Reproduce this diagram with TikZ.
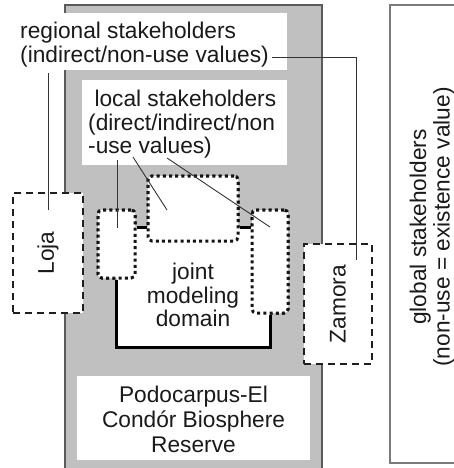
\documentclass[tikz,border=0pt]{standalone}
\usepackage{fontspec}
\setmainfont{Liberation Sans}
\definecolor{bggray}{HTML}{C0C0C0}
\definecolor{edgegray}{HTML}{5A5A5A}
\definecolor{txtcol}{HTML}{1A1A1A}
\begin{document}
\begin{tikzpicture}[x=1pt,y=-1pt,
  txt/.style={font=\fontsize{22.7}{23.5}\selectfont, text=txtcol, inner sep=0pt},
  wbox/.style={fill=white, draw=none, inner sep=0pt},
  dotbox/.style={draw=black!92, fill=white, line width=3pt, dash pattern=on 3pt off 3.2pt, rounded corners=4pt, inner sep=0pt},
  dashbox/.style={draw=black!88, fill=white, line width=1.8pt, dash pattern=on 7pt off 5pt, inner sep=0pt},
  conn/.style={draw=black!80, line width=0.9pt},
  domline/.style={draw=black, line width=3pt},
  beam/.style={draw=black, line width=3pt}
]
\useasboundingbox (0,0) rectangle (454,468);
% global stakeholders box
\node[draw=edgegray!80, line width=1.2pt, fill=white, minimum width=84pt, minimum height=458pt, inner sep=0pt] (G) at (432,234) {};
\node[txt, align=center, rotate=90] (Gt) at (432,227) {global stakeholders\\(non-use = existence value)};
% gray reserve area
\path[fill=bggray, draw=edgegray, line width=1.3pt] (65,5) rectangle (322,480);
% regional box
\node[wbox, minimum width=279pt, minimum height=57pt] (R) at (147.5,41.5) {};
\node[txt, align=left, anchor=north west] (Rt) at (20,22) {regional stakeholders\\(indirect/non-use values)};
% local box
\node[wbox, minimum width=205pt, minimum height=85pt] (Lo) at (184.5,122.5) {};
\node[txt, align=left, anchor=north west] (Lt) at (88,90) {\hspace*{6.3pt}local stakeholders\\(direct/indirect/non\\-use values)};
% joint modeling domain
\coordinate (jy) at (0,227);
\coordinate (dB) at (0,347);
\node[dotbox, minimum width=37pt, minimum height=68pt] (L) at (116.5,244) {};
\node[dotbox, minimum width=90pt, minimum height=65pt] (C) at (193,208.5) {};
\node[dotbox, minimum width=36pt, minimum height=103pt] (Rb) at (270,261.5) {};
\fill[white] (L.south |- jy) rectangle (Rb.south |- dB);
\draw[domline] (L.south) -- (L.south |- dB) -- (Rb.south |- dB) -- (Rb.south);
\draw[beam] (L.east |- jy) -- (C.west |- jy);
\draw[beam] (C.east |- jy) -- (Rb.west |- jy);
\node[dotbox, minimum width=37pt, minimum height=68pt] (L2) at (116.5,244) {};
\node[dotbox, minimum width=90pt, minimum height=65pt] (C2) at (193,208.5) {};
\node[dotbox, minimum width=36pt, minimum height=103pt] (Rb2) at (270,261.5) {};
\node[txt, align=center] (Jt) at (193,295) {joint\\modeling\\domain};
% Loja and Zamora
\node[dashbox, minimum width=70pt, minimum height=120pt] (Loja) at (48,253) {};
\node[txt, rotate=90] (LojaT) at (48,253) {Loja};
\node[dashbox, minimum width=68pt, minimum height=120pt] (Zam) at (338,304) {};
\node[txt, rotate=90] (ZamT) at (338,304) {Zamora};
% Podocarpus box
\node[wbox, minimum width=233pt, minimum height=84pt] (P) at (193.5,418) {};
\node[txt, align=center, font=\fontsize{22.7}{25}\selectfont] (Pt) at (193.5,419) {Podocarpus-El\\Condór Biosphere\\Reserve};
% connector lines
\coordinate (r1) at (48,73);
\coordinate (r1e) at (48,210);
\coordinate (r2) at (272,57);
\coordinate (r2e) at (356,260);
\coordinate (l1) at (117,160);
\coordinate (l1e) at (117,228);
\coordinate (l2) at (133,157);
\coordinate (l2e) at (167,210);
\coordinate (l3) at (167,158);
\coordinate (l3e) at (270,227);
\draw[conn] (r1) -- (r1e);
\draw[conn] (r2) -| (r2e);
\draw[conn] (l1) -- (l1e);
\draw[conn] (l2) -- (l2e);
\draw[conn] (l3) -- (l3e);
\end{tikzpicture}
\end{document}
